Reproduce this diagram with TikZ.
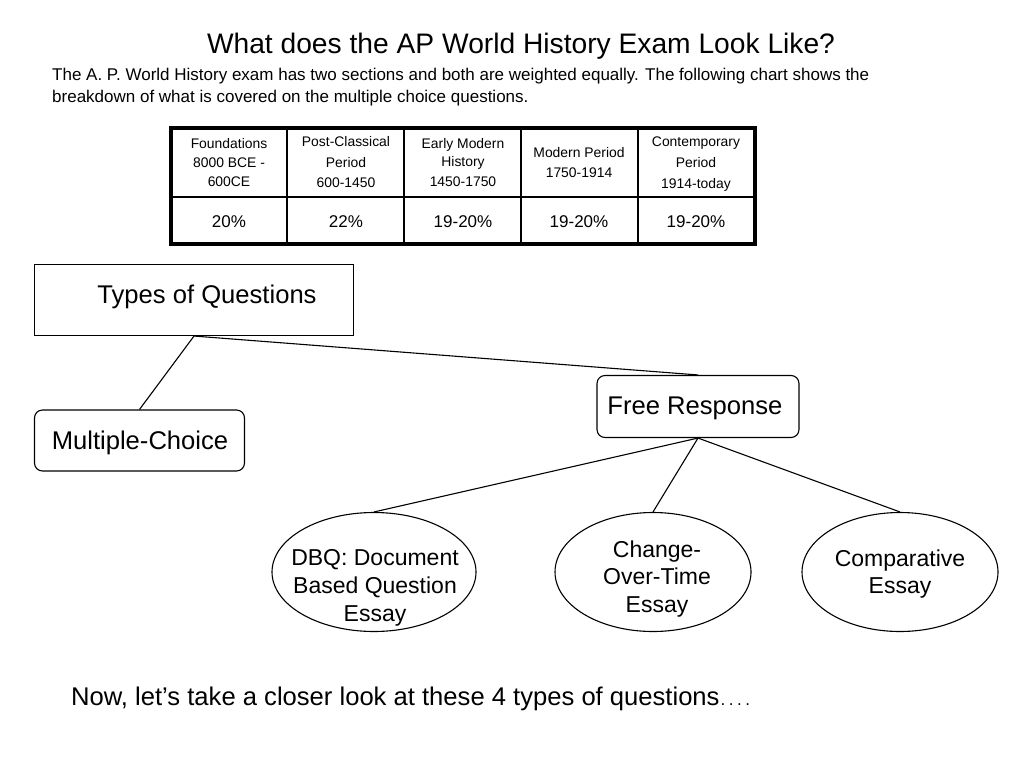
\documentclass[tikz,border=0pt]{standalone}
\usepackage{fontspec}
\setmainfont{Liberation Sans}
\usetikzlibrary{shapes.geometric}
\newcommand{\pxfont}[1]{\fontsize{#1}{#1}\selectfont}
\tikzset{x=1pt,y=-1pt,
 lbl/.style={inner sep=0pt,align=center,text=black},
 rbox/.style={draw,rounded corners=8pt,line width=1.1pt},
 oval/.style={draw,ellipse,line width=1.1pt,inner sep=0pt},
 conn/.style={line width=1.1pt},
 grid line/.style={line width=1.6pt},
 frame line/.style={line width=3.4pt}}
\begin{document}
\begin{tikzpicture}
\useasboundingbox (0,0) rectangle (1024,768);
\node[lbl,anchor=base] (title) at (521,53) {\pxfont{28.2}What does the AP World History Exam Look Like?};
\node[lbl,anchor=base west,align=left] (intro1) at (52,81) {\pxfont{17}The A. P. World History exam has two sections and both are weighted equally. The following chart shows the};
\node[lbl,anchor=base west,align=left] (intro2) at (52,102) {\pxfont{17}breakdown of what is covered on the multiple choice questions.};
% table
\draw[grid line] (287,128) -- (287,244) (404,128) -- (404,244) (521,128) -- (521,244) (638,128) -- (638,244);
\draw[grid line] (171,197) -- (755,197);
\draw[frame line] (171,128) rectangle (755,244);
\node[lbl,anchor=base] (a1) at (229,148) {\pxfont{13.9}Foundations};
\node[lbl,anchor=base] (a2) at (229,167) {\pxfont{13.9}8000 BCE -};
\node[lbl,anchor=base] (a3) at (229,186) {\pxfont{13.9}600CE};
\node[lbl,anchor=base] (b1) at (346,146) {\pxfont{13.9}Post-Classical};
\node[lbl,anchor=base] (b2) at (346,167) {\pxfont{13.9}Period};
\node[lbl,anchor=base] (b3) at (346,187) {\pxfont{13.9}600-1450};
\node[lbl,anchor=base] (c1) at (463,148) {\pxfont{13.9}Early Modern};
\node[lbl,anchor=base] (c2) at (463,166) {\pxfont{13.9}History};
\node[lbl,anchor=base] (c3) at (463,186) {\pxfont{13.9}1450-1750};
\node[lbl,anchor=base] (d1) at (579,157) {\pxfont{13.9}Modern Period};
\node[lbl,anchor=base] (d2) at (579,177) {\pxfont{13.9}1750-1914};
\node[lbl,anchor=base] (e1) at (696,146) {\pxfont{13.9}Contemporary};
\node[lbl,anchor=base] (e2) at (696,167) {\pxfont{13.9}Period};
\node[lbl,anchor=base] (e3) at (696,188) {\pxfont{13.9}1914-today};
\foreach \n/\x/\t in {p1/229/20\%,p2/346/22\%,p3/463/19-20\%,p4/579/19-20\%,p5/696/19-20\%}
 \node[lbl,anchor=base] (\n) at (\x,227) {\pxfont{17}\t};
% boxes
\node[draw,line width=1.1pt,minimum width=319pt,minimum height=71pt,inner sep=0pt] (types) at (194,300) {};
\node[lbl,anchor=base] (typesL) at (207,303) {\pxfont{25.6}Types of Questions};
\node[rbox,minimum width=202pt,minimum height=62pt,inner sep=0pt] (free) at (698,406.5) {};
\node[lbl,anchor=base] (freeL) at (695,414) {\pxfont{25.6}Free Response};
\node[rbox,minimum width=210pt,minimum height=61pt,inner sep=0pt] (mc) at (139.5,440.5) {};
\node[lbl,anchor=base] (mcL) at (140,449) {\pxfont{25.6}Multiple-Choice};
\node[oval,minimum width=204pt,minimum height=119pt] (dbq) at (374,572) {};
\node[oval,minimum width=196pt,minimum height=119pt] (cot) at (653,572) {};
\node[oval,minimum width=196pt,minimum height=119pt] (comp) at (900,572) {};
\node[lbl,anchor=base] (dbq1) at (375,565) {\pxfont{23}DBQ: Document};
\node[lbl,anchor=base] (dbq2) at (375,593) {\pxfont{23}Based Question};
\node[lbl,anchor=base] (dbq3) at (375,621) {\pxfont{23}Essay};
\node[lbl,anchor=base] (cot1) at (657,557) {\pxfont{23}Change-};
\node[lbl,anchor=base] (cot2) at (657,584) {\pxfont{23}Over-Time};
\node[lbl,anchor=base] (cot3) at (657,612) {\pxfont{23}Essay};
\node[lbl,anchor=base] (comp1) at (900,566) {\pxfont{23}Comparative};
\node[lbl,anchor=base] (comp2) at (900,593) {\pxfont{23}Essay};
\node[lbl,anchor=base west] (now) at (71,705) {\pxfont{25.6}Now, let’s take a closer look at these 4 types of questions{\pxfont{17}\kern1pt.\kern3.5pt.\kern3.5pt.\kern3.5pt.}};
% connectors
\draw[conn] (types.south) -- (mc.north);
\draw[conn] (types.south) -- (free.north);
\draw[conn] (free.south) -- (dbq.north);
\draw[conn] (free.south) -- (cot.north);
\draw[conn] (free.south) -- (comp.north);
\end{tikzpicture}
\end{document}
